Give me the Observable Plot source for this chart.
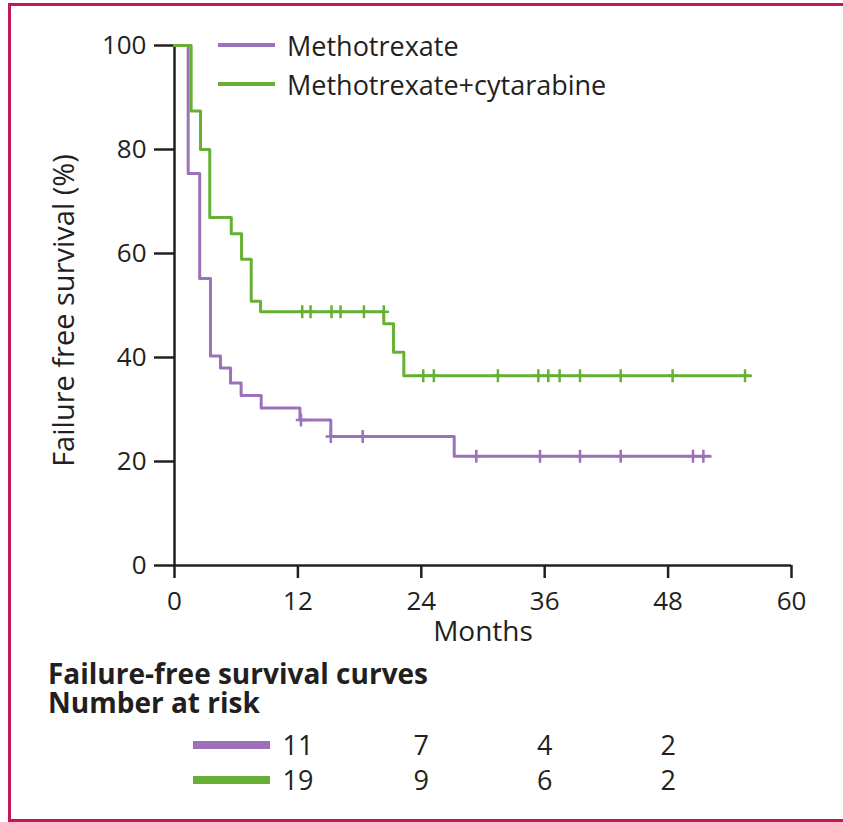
<!DOCTYPE html>
<html><head><meta charset="utf-8">
<script src="https://cdn.jsdelivr.net/npm/d3@7"></script>
<script src="https://cdn.jsdelivr.net/npm/@observablehq/plot@0.6"></script>
<style>
body{margin:0;background:#fff;font-family:"Open Sans",sans-serif;color:#231f20}
#wrap{position:relative;width:843px;height:822px;overflow:hidden;background:#fff}
#frame{position:absolute;left:8px;top:3px;width:900px;height:813px;border:3px solid #c2185b;border-right:none}
#main{position:absolute;left:0;top:0}
#main g[aria-label="y-label"] text{letter-spacing:2px}
#risk{position:absolute;left:0;top:727.5px}
.leg{position:absolute;left:218px;height:30px;display:flex;align-items:center;font-size:27px;white-space:nowrap}
.leg .sw{display:inline-block;width:57px;height:3.5px;margin-right:12px}
.ttl{position:absolute;left:48px;font-weight:700;font-size:28px;line-height:29px;height:29px;white-space:nowrap}
.rsw{position:absolute;left:193px;width:77px;height:8px}
</style></head>
<body>
<div id="wrap">
  <div id="frame"></div>
  <div id="main"></div>
  <div id="legend"></div>
  <div class="ttl" style="top:659px">Failure-free survival curves</div>
  <div class="ttl" style="top:688px">Number at risk</div>
  <div id="risk"></div>
  <div id="riskSw"></div>
</div>
<script>
// ---- data ----
const series = ["Methotrexate", "Methotrexate+cytarabine"];
const seriesColors = ["#9b72b9", "#67b035"];

const xTicks = [0, 12, 24, 36, 48, 60];
const yTicks = [0, 20, 40, 60, 80, 100];

// Methotrexate (step curve: time in months, survival in %)
const mtxTime = [0, 1.33, 2.45, 3.5, 4.47, 5.45, 6.48, 8.43, 12.2, 15.2, 27.2, 52.1];
const mtxSurv = [100, 75.4, 55.2, 40.3, 38.0, 35.1, 32.7, 30.3, 28.0, 24.8, 21.0, 21.0];
const mtxCensorTime = [12.3, 15.2, 18.3, 29.35, 35.54, 39.43, 43.39, 50.42, 51.43];
const mtxCensorSurv = [28.0, 24.8, 24.8, 21.0, 21.0, 21.0, 21.0, 21.0, 21.0];

// Methotrexate+cytarabine
const maTime = [0, 1.62, 2.53, 3.43, 5.52, 6.52, 7.46, 8.37, 20.35, 21.3, 22.3, 56.03];
const maSurv = [100, 87.4, 80.0, 66.9, 63.8, 58.9, 50.8, 48.8, 46.5, 41.0, 36.5, 36.5];
const maCensorTime = [12.42, 13.23, 15.27, 16.15, 18.42, 20.35, 24.19, 25.22, 31.45, 35.38, 36.35, 37.45, 39.43, 43.39, 48.44, 55.48];
const maCensorSurv = [48.8, 48.8, 48.8, 48.8, 48.8, 48.8, 36.5, 36.5, 36.5, 36.5, 36.5, 36.5, 36.5, 36.5, 36.5, 36.5];

// Number at risk
const riskMonths = [12, 24, 36, 48];
const riskMtx = [11, 7, 4, 2];
const riskMa = [19, 9, 6, 2];

const xLabel = "Months";
const yLabel = "Failure free survival (%)";

// ---- build ----
const rows = (t, s, g) => t.map((d, i) => ({t: d, s: s[i], g}));
const curves = [...rows(mtxTime, mtxSurv, series[0]), ...rows(maTime, maSurv, series[1])];
const censors = [...rows(mtxCensorTime, mtxCensorSurv, series[0]), ...rows(maCensorTime, maCensorSurv, series[1])];
const ink = "#231f20";

const plus = {
  draw(ctx, size) {
    const r = Math.sqrt(size / Math.PI);
    ctx.moveTo(0, -r); ctx.lineTo(0, r);
    ctx.moveTo(-r * 0.8, 0); ctx.lineTo(r * 0.8, 0);
  }
};

const main = Plot.plot({
  width: 843, height: 650,
  marginLeft: 174, marginRight: 52, marginTop: 45, marginBottom: 85,
  style: {fontFamily: "'Open Sans', sans-serif", color: ink, background: "transparent", overflow: "visible"},
  x: {domain: [0, 60]},
  y: {domain: [0, 100]},
  color: {domain: series, range: seriesColors},
  marks: [
    Plot.axisY({ticks: yTicks, tickSize: 20, tickPadding: 8, strokeWidth: 2.5, label: null, fontSize: 26, stroke: ink, fill: ink}),
    Plot.axisX({ticks: xTicks, tickSize: 13, tickPadding: 13, strokeWidth: 2.5, label: null, fontSize: 26, stroke: ink, fill: ink}),
    Plot.ruleX([0], {stroke: ink, strokeWidth: 2.5}),
    Plot.ruleY([0], {stroke: ink, strokeWidth: 2.5}),
    Plot.line(curves.filter(d => d.g === series[0]), {x: "t", y: "s", stroke: "g", curve: "step-after", strokeWidth: 3}),
    Plot.line(curves.filter(d => d.g === series[1]), {x: "t", y: "s", stroke: "g", curve: "step-after", strokeWidth: 3}),
    Plot.dot(censors, {x: "t", y: "s", stroke: "g", fill: "none", symbol: plus, r: 6.5, strokeWidth: 2.5}),
    Plot.text([xLabel], {frameAnchor: "bottom", dy: 75, fontSize: 28, fill: ink}),
    Plot.text([yLabel], {frameAnchor: "left", textAnchor: "middle", dx: -110, dy: 5, rotate: -90, fontSize: 29, fill: ink, ariaLabel: "y-label"})
  ]
});
document.getElementById("main").appendChild(main);

// legend
const legend = document.getElementById("legend");
const legY = [45, 84];
series.forEach((s, i) => {
  const d = document.createElement("div");
  d.className = "leg";
  d.style.top = (legY[i] - 15) + "px";
  d.innerHTML = `<span class="sw" style="background:${seriesColors[i]}"></span><span>${s}</span>`;
  legend.appendChild(d);
});

// risk table
const riskRows = [
  ...riskMonths.map((m, i) => ({m, n: riskMtx[i], g: series[0]})),
  ...riskMonths.map((m, i) => ({m, n: riskMa[i], g: series[1]}))
];
const risk = Plot.plot({
  width: 843, height: 70,
  marginLeft: 174, marginRight: 52, marginTop: 0, marginBottom: 0,
  style: {fontFamily: "'Open Sans', sans-serif", color: ink, background: "transparent", overflow: "visible"},
  x: {domain: [0, 60], axis: null},
  y: {domain: series, axis: null},
  marks: [
    Plot.text(riskRows, {x: "m", y: "g", text: d => String(d.n), fontSize: 27, fill: ink})
  ]
});
document.getElementById("risk").appendChild(risk);
const rsw = document.getElementById("riskSw");
[745, 780].forEach((cy, i) => {
  const d = document.createElement("div");
  d.className = "rsw";
  d.style.top = (cy - 4) + "px";
  d.style.background = seriesColors[i];
  rsw.appendChild(d);
});
</script>
</body></html>
